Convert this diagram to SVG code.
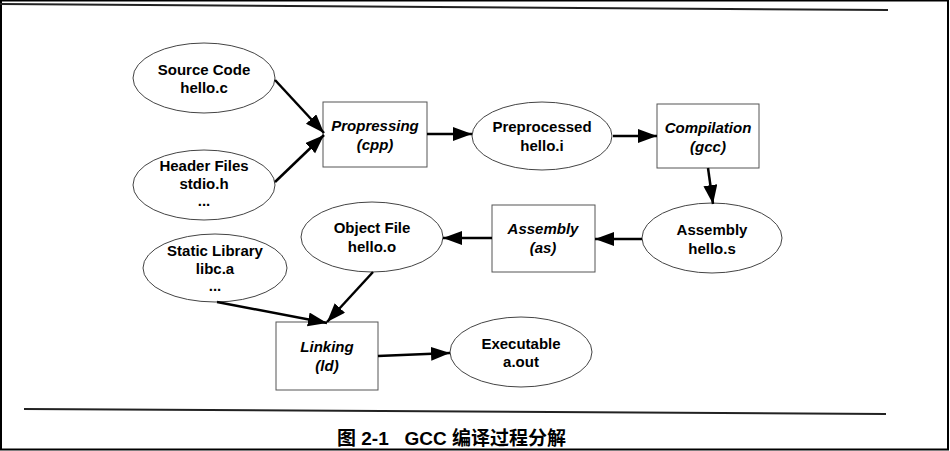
<svg xmlns="http://www.w3.org/2000/svg" width="950" height="451" viewBox="0 0 950 451">
<defs>
<marker id="ah" markerUnits="userSpaceOnUse" markerWidth="22" markerHeight="16" refX="19" refY="7" orient="auto">
<path d="M0,0 L19,7 L0,14 z" fill="#000"/>
</marker>
<style>
.bg{fill:#fff}
.frame{fill:none;stroke:#000;stroke-width:2}
.rule{stroke:#222;stroke-width:2}
.ell{fill:#fff;stroke:#444;stroke-width:1}
.box{fill:#fff;stroke:#555;stroke-width:1}
.t{font-family:"Liberation Sans",Arial,sans-serif;font-size:15px;font-weight:bold;fill:#000;text-anchor:middle}
.ti{font-family:"Liberation Sans",Arial,sans-serif;font-size:15px;font-weight:bold;font-style:italic;fill:#000;text-anchor:middle}
.con line{stroke:#000;stroke-width:2.5;marker-end:url(#ah)}
.cap{font-family:"Liberation Sans","Noto Sans CJK SC",sans-serif;font-size:19px;font-weight:bold;fill:#000}
</style>
</defs>
<rect class="bg" x="0" y="0" width="950" height="451"/>
<rect class="frame" x="1" y="0.5" width="947" height="449"/>
<line class="rule" x1="0" y1="4" x2="888" y2="10"/>
<line class="rule" x1="24" y1="409" x2="886" y2="414"/>

<g id="src"><ellipse class="ell" cx="204" cy="78" rx="71" ry="35"/><text class="t" x="204" y="75">Source Code</text><text class="t" x="204" y="93">hello.c</text></g>
<g id="hdr"><ellipse class="ell" cx="204" cy="185" rx="71" ry="35"/><text class="t" x="204" y="171">Header Files</text><text class="t" x="204" y="189">stdio.h</text><text class="t" x="204" y="206">...</text></g>
<g id="cpp"><rect class="box" x="323" y="102" width="104" height="65"/><text class="ti" x="375" y="131">Propressing</text><text class="ti" x="375" y="150">(cpp)</text></g>
<g id="pre"><ellipse class="ell" cx="542" cy="136" rx="70" ry="34"/><text class="t" x="542" y="132">Preprocessed</text><text class="t" x="542" y="151">hello.i</text></g>
<g id="gcc"><rect class="box" x="657" y="104" width="102" height="64"/><text class="ti" x="708" y="133">Compilation</text><text class="ti" x="708" y="152">(gcc)</text></g>
<g id="asms"><ellipse class="ell" cx="712" cy="238" rx="70" ry="35"/><text class="t" x="712" y="235">Assembly</text><text class="t" x="712" y="254">hello.s</text></g>
<g id="as"><rect class="box" x="492" y="205" width="103" height="67"/><text class="ti" x="543" y="234">Assembly</text><text class="ti" x="543" y="253">(as)</text></g>
<g id="obj"><ellipse class="ell" cx="372" cy="237" rx="71" ry="35"/><text class="t" x="372" y="233">Object File</text><text class="t" x="372" y="252">hello.o</text></g>
<g id="lib"><ellipse class="ell" cx="215" cy="268" rx="72" ry="34"/><text class="t" x="215" y="256">Static Library</text><text class="t" x="215" y="274">libc.a</text><text class="t" x="215" y="291">...</text></g>
<g id="ld"><rect class="box" x="276" y="322" width="102" height="68"/><text class="ti" x="327" y="352">Linking</text><text class="ti" x="327" y="371">(ld)</text></g>
<g id="exe"><ellipse class="ell" cx="521" cy="352" rx="71" ry="35"/><text class="t" x="521" y="349">Executable</text><text class="t" x="521" y="367">a.out</text></g>

<g id="connectors" class="con">
<line x1="275" y1="80" x2="324" y2="133"/>
<line x1="275" y1="182" x2="324" y2="135"/>
<line x1="427" y1="134" x2="472" y2="134"/>
<line x1="613" y1="136" x2="657" y2="136"/>
<line x1="708" y1="168" x2="713" y2="204"/>
<line x1="642" y1="239" x2="595" y2="239"/>
<line x1="492" y1="238" x2="443" y2="238"/>
<line x1="373" y1="272" x2="327" y2="322"/>
<line x1="217" y1="302" x2="327" y2="323"/>
<line x1="378" y1="356" x2="450" y2="353"/>
</g>

<text class="cap" x="337" y="445" xml:space="preserve">图 2-1   GCC 编译过程分解</text>
</svg>
